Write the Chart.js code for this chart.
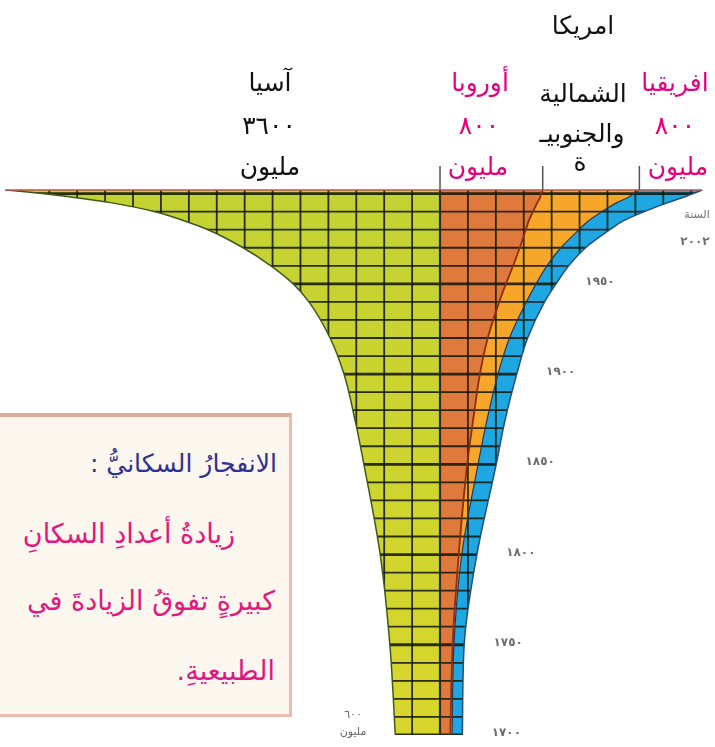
<!DOCTYPE html>
<html>
<head>
<meta charset="utf-8">
<script src="https://cdn.jsdelivr.net/npm/chart.js@4.4.0/dist/chart.umd.min.js"></script>
<style>
  body { margin: 0; background: #fff; }
  #wrap { position: relative; width: 715px; height: 747px; overflow: hidden; font-family: "DejaVu Sans", sans-serif; }
  #chart { position: absolute; left: 0; top: 0; }
  .lbl { position: absolute; transform: translate(-50%, -50%); white-space: nowrap; font-size: 25px; line-height: 1; direction: rtl; color: #111; }
  .num { letter-spacing: 6px; padding-left: 6px; }
  .pink { color: #e6007e; }
  .small { font-size: 11px; color: #666; }
  .box { position: absolute; left: -20px; top: 413px; width: 312px; height: 304px; box-sizing: border-box;
         border: 3px solid #ecbdad; border-top-width: 4px; border-top-color: #dcae9c; background: #fcf7ee; overflow: hidden; }
  .box div { position: absolute; white-space: nowrap; direction: rtl; transform: translateY(-50%); line-height: 1.3; }
  .title { color: #2e3192; font-size: 25px; }
  .body { color: #e2187f; font-size: 27px; }
</style>
</head>
<body>
<div id="wrap">
  <canvas id="chart" width="715" height="747"></canvas>

  <div class="lbl" style="left:583px;top:25px">امريكا</div>

  <div class="lbl" style="left:270px;top:82px">آسيا</div>
  <div class="lbl num" style="left:266px;top:125px">٣٦٠٠</div>
  <div class="lbl" style="left:270px;top:166px">مليون</div>

  <div class="lbl pink" style="left:480px;top:82px">أوروبا</div>
  <div class="lbl pink num" style="left:476px;top:125px">٨٠٠</div>
  <div class="lbl pink" style="left:478px;top:166px">مليون</div>

  <div class="lbl" style="left:583px;top:93px">الشمالية</div>
  <div class="lbl" style="left:582px;top:133px">والجنوبيـ</div>
  <div class="lbl" style="left:580px;top:162px">ة</div>

  <div class="lbl pink" style="left:675px;top:82px">افريقيا</div>
  <div class="lbl pink num" style="left:672px;top:125px">٨٠٠</div>
  <div class="lbl pink" style="left:678px;top:166px">مليون</div>

  <div class="lbl small" style="left:353px;top:714px;letter-spacing:2px">٦٠٠</div>
  <div class="lbl small" style="left:353px;top:731px">مليون</div>

  <div class="box">
    <div class="title" style="right:12px;top:47px">الانفجارُ السكانيُّ :</div>
    <div class="body" style="right:54px;top:117px">زيادةُ أعدادِ السكانِ</div>
    <div class="body" style="right:14px;top:184px">كبيرةٍ تفوقُ الزيادةَ في</div>
    <div class="body" style="right:14px;top:254px">الطبيعيةِ.</div>
  </div>
</div>

<script>
// population per region (millions)
const years    = [1700, 1750, 1800, 1850, 1875, 1900, 1920, 1940, 1950, 1960, 1970, 1980, 1985, 1990, 1995, 1998, 2000, 2001, 2002];
const asia     = [370, 415, 495, 630, 705, 795, 910, 1085, 1215, 1400, 1630, 1920, 2120, 2360, 2730, 3045, 3295, 3435, 3600];
const europe   = [85, 105, 155, 225, 275, 330, 395, 490, 545, 605, 660, 710, 735, 770, 805, 830, 835, 845, 850];
const americas = [15, 10, 25, 90, 115, 150, 180, 225, 250, 280, 340, 440, 495, 570, 660, 730, 770, 785, 800];
const africa   = [85, 85, 125, 150, 150, 155, 150, 150, 165, 180, 205, 255, 290, 350, 420, 455, 490, 505, 520];

// year labels drawn next to the right edge
const yearTicks  = [1700, 1750, 1800, 1850, 1900, 1950];
const yearLabels = ['١٧٠٠', '١٧٥٠', '١٨٠٠', '١٨٥٠', '١٩٠٠', '١٩٥٠'];
const lastYearLabel = '٢٠٠٢';
const yearTitle = 'السنة';

const GRID_STEP = 231;   // millions per grid column
const YEAR_STEP = 10;

// Asia grows to the left of 0, the others stack to the right
const asiaEdge = asia.map(v => -v);
const europeEdge = europe.slice();
const americasEdge = europe.map((v, i) => v + americas[i]);
const africaEdge = americasEdge.map((v, i) => v + africa[i]);

const pts = arr => arr.map((v, i) => ({ x: v, y: years[i] }));

const gridPlugin = {
  id: 'shapeGrid',
  beforeDatasetsDraw(chart) {
    const { ctx, chartArea: a, scales: { x, y } } = chart;
    const leftLine = chart.getDatasetMeta(1).dataset;
    const rightLine = chart.getDatasetMeta(4).dataset;
    ctx.save();
    ctx.beginPath();
    leftLine.path(ctx);
    ctx.lineTo(a.right, a.top); ctx.lineTo(a.right, a.bottom); ctx.closePath();
    ctx.clip();
    ctx.beginPath();
    rightLine.path(ctx);
    ctx.lineTo(a.left, a.top); ctx.lineTo(a.left, a.bottom); ctx.closePath();
    ctx.clip();

    ctx.strokeStyle = 'rgba(18,24,10,0.88)';
    ctx.lineWidth = 1.8;
    for (let v = Math.ceil(x.min / GRID_STEP) * GRID_STEP; v <= x.max; v += GRID_STEP) {
      const px = x.getPixelForValue(v);
      ctx.beginPath(); ctx.moveTo(px, a.top); ctx.lineTo(px, a.bottom); ctx.stroke();
    }
    for (let yr = y.min; yr <= y.max; yr += YEAR_STEP) {
      const py = y.getPixelForValue(yr);
      ctx.lineWidth = yr % 50 === 0 ? 2.8 : 1.8;
      ctx.beginPath(); ctx.moveTo(a.left, py); ctx.lineTo(a.right, py); ctx.stroke();
    }
    ctx.restore();
  },
  afterDatasetsDraw(chart) {
    const { ctx, chartArea: a, scales: { x, y } } = chart;
    const last = years.length - 1;
    const top = y.getPixelForValue(years[last]);

    // top edge
    ctx.save();
    ctx.strokeStyle = '#b8574a';
    ctx.lineWidth = 1.5;
    ctx.beginPath();
    ctx.moveTo(x.getPixelForValue(asiaEdge[last]), top);
    ctx.lineTo(x.getPixelForValue(africaEdge[last]), top);
    ctx.stroke();

    // boundary marks above the top
    ctx.strokeStyle = '#555';
    ctx.lineWidth = 1.5;
    [0, europeEdge[last], americasEdge[last]].forEach(v => {
      const px = x.getPixelForValue(v);
      ctx.beginPath(); ctx.moveTo(px, top - 24); ctx.lineTo(px, top); ctx.stroke();
    });

    // year labels
    ctx.fillStyle = '#6f6f6f';
    ctx.font = 'bold 12px "DejaVu Sans"';
    ctx.textAlign = 'center';
    ctx.textBaseline = 'middle';
    ctx.letterSpacing = '3px';
    yearTicks.forEach((yr, i) => {
      const idx = years.indexOf(yr);
      const px = x.getPixelForValue(africaEdge[idx]) + 44;
      ctx.fillText(yearLabels[i], px, y.getPixelForValue(yr) - 2);
    });
    ctx.fillText(lastYearLabel, a.right - 20, top + 52);
    ctx.letterSpacing = '0px';
    ctx.font = '11px "DejaVu Sans"';
    ctx.fillText(yearTitle, a.right - 18, top + 25);
    ctx.restore();
  }
};

const asiaFill = (c) => {
  const area = c.chart.chartArea;
  if (!area) return '#c8d32f';
  const g = c.chart.ctx.createLinearGradient(0, area.top, 0, area.bottom);
  g.addColorStop(0, '#c3d233');
  g.addColorStop(1, '#d8d62b');
  return g;
};

const common = { pointRadius: 0, pointHitRadius: 0, cubicInterpolationMode: 'monotone' };

new Chart(document.getElementById('chart'), {
  type: 'line',
  data: {
    datasets: [
      { ...common, label: 'axis', data: pts(years.map(() => 0)), borderColor: '#2a2a18', borderWidth: 2.2, fill: false },
      { ...common, label: 'آسيا', data: pts(asiaEdge), borderColor: '#3d5a1e', borderWidth: 1.5, backgroundColor: asiaFill, fill: 0 },
      { ...common, label: 'أوروبا', data: pts(europeEdge), borderColor: '#8c2d14', borderWidth: 1.8, backgroundColor: '#e07a3c', fill: 0 },
      { ...common, label: 'امريكا', data: pts(americasEdge), borderColor: '#2a3550', borderWidth: 1.2, backgroundColor: '#f6a72a', fill: '-1' },
      { ...common, label: 'افريقيا', data: pts(africaEdge), borderColor: '#1d4e89', borderWidth: 1.5, backgroundColor: '#1ea7e1', fill: '-1' }
    ]
  },
  options: {
    indexAxis: 'y',
    responsive: false,
    animation: false,
    layout: { padding: { top: 190, bottom: 12, left: 0, right: 0 } },
    scales: {
      x: { type: 'linear', display: false, min: -3642, max: 2276 },
      y: { type: 'linear', display: false, min: 1700, max: 2002 }
    },
    plugins: {
      legend: { display: false },
      tooltip: { enabled: false },
      filler: { drawTime: 'beforeDatasetsDraw' }
    }
  },
  plugins: [gridPlugin]
});
</script>
</body>
</html>
